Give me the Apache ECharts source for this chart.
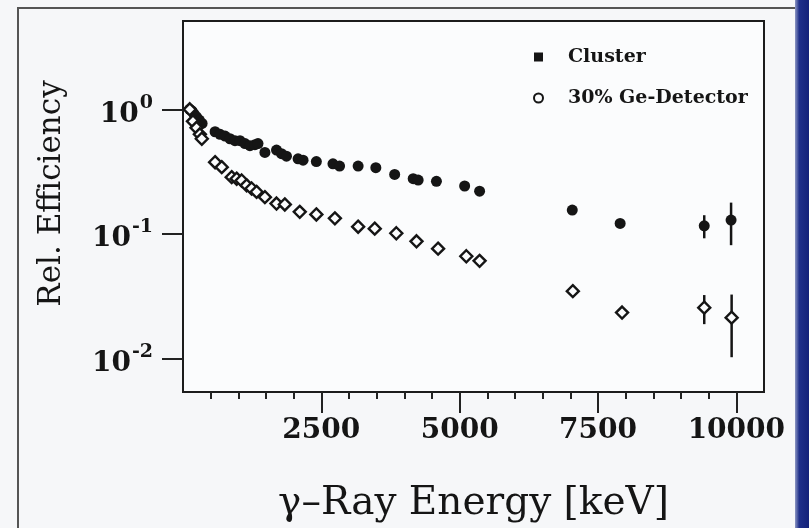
<!DOCTYPE html>
<html>
<head>
<meta charset="utf-8">
<script src="https://cdn.jsdelivr.net/npm/echarts@6/dist/echarts.min.js"></script>
<style>
  html, body { margin: 0; padding: 0; background: #f6f7f9; }
  #chart { width: 809px; height: 528px; }
</style>
</head>
<body>
<div id="chart"></div>
<script>
// cluster detector (filled points)
var clusterE = [122, 160, 200, 245, 295, 345, 580, 670, 760, 850, 940, 1030, 1120, 1210, 1300, 1355, 1480, 1690, 1780, 1870, 2080, 2170, 2410, 2710, 2830, 3165, 3485, 3825, 4160, 4250, 4580, 5090, 5360, 7035, 7900, 9420, 9905];
var clusterEff = [1.0, 0.97, 0.92, 0.87, 0.82, 0.77, 0.66, 0.63, 0.61, 0.58, 0.56, 0.56, 0.53, 0.51, 0.52, 0.53, 0.45, 0.47, 0.44, 0.42, 0.40, 0.39, 0.38, 0.365, 0.35, 0.35, 0.34, 0.30, 0.277, 0.27, 0.264, 0.242, 0.22, 0.155, 0.121, 0.116, 0.129];

// 30% Ge detector (open points)
var geE = [122, 180, 245, 305, 340, 580, 700, 880, 970, 1060, 1150, 1240, 1330, 1480, 1690, 1840, 2110, 2410, 2745, 3165, 3465, 3855, 4220, 4610, 5120, 5360, 7045, 7935, 9420, 9915];
var geEff = [1.0, 0.80, 0.71, 0.63, 0.58, 0.376, 0.343, 0.285, 0.277, 0.268, 0.245, 0.231, 0.217, 0.197, 0.175, 0.172, 0.150, 0.143, 0.133, 0.114, 0.110, 0.101, 0.087, 0.076, 0.066, 0.0606, 0.0346, 0.0233, 0.0255, 0.0212];

// error bars (only the high energy points have visible ones)
var clusterErrE = [9420, 9905];
var clusterErrLo = [0.092, 0.081];
var clusterErrHi = [0.141, 0.178];
var geErrE = [9420, 9915];
var geErrLo = [0.0188, 0.0102];
var geErrHi = [0.0322, 0.0325];

// ticks
var xMajorTicks = [2500, 5000, 7500, 10000];
var xMinorTicks = [500, 1000, 1500, 2000, 3000, 3500, 4000, 4500, 5500, 6000, 6500, 7000, 8000, 8500, 9000, 9500];
var yTicks = [0.01, 0.1, 1];

var seriesNames = ['Cluster', '30% Ge-Detector'];

function pairs(xs, ys) {
  return xs.map(function (x, i) { return [x, ys[i]]; });
}
function errRows(xs, lo, hi) {
  return xs.map(function (x, i) { return [x, lo[i], hi[i]]; });
}

function errBar(params, api) {
  var top = api.coord([api.value(0), api.value(2)]);
  var bot = api.coord([api.value(0), api.value(1)]);
  return {
    type: 'line',
    shape: { x1: top[0], y1: top[1], x2: bot[0], y2: bot[1] },
    style: { stroke: '#151515', lineWidth: 2.5 }
  };
}

var serif = 'DejaVu Serif';
var ink = '#151515';

var myChart = echarts.init(document.getElementById('chart'), null, { renderer: 'canvas' });

var option = {
  backgroundColor: '#f6f7f9',
  animation: false,
  graphic: [
    {
      type: 'polyline',
      shape: { points: [[18, 528], [18, 8], [796, 8]] },
      style: { stroke: '#555', lineWidth: 2, fill: null }
    },
    {
      type: 'rect',
      shape: { x: 795, y: 0, width: 14, height: 528 },
      style: {
        fill: new echarts.graphic.LinearGradient(0, 0, 1, 0, [
          { offset: 0, color: '#8d97c4' },
          { offset: 0.3, color: '#1f2f8a' },
          { offset: 1, color: '#14227a' }
        ])
      }
    }
  ],
  grid: {
    left: 183, right: 45, top: 21, bottom: 133,
    show: true,
    backgroundColor: '#fbfcfd',
    borderColor: '#1c1c1c',
    borderWidth: 2
  },
  legend: {
    orient: 'vertical',
    left: 528, top: 42,
    itemWidth: 9, itemHeight: 9,
    itemGap: 21,
    data: [
      { name: seriesNames[0], icon: 'rect' },
      { name: seriesNames[1], icon: 'circle' }
    ],
    textStyle: {
      fontFamily: serif, fontWeight: 'bold', fontSize: 19, color: ink,
      lineHeight: 20, padding: [0, 0, 0, 20]
    }
  },
  xAxis: [
    {
      type: 'value',
      min: 0, max: 10500,
      name: 'γ–Ray Energy [keV]',
      nameLocation: 'middle',
      nameGap: 92,
      nameTextStyle: { fontFamily: serif, fontSize: 39, color: ink },
      axisLine: { show: false },
      splitLine: { show: false },
      axisTick: {
        show: true, length: 21, customValues: xMajorTicks,
        lineStyle: { color: '#222', width: 2 }
      },
      axisLabel: {
        customValues: xMajorTicks,
        margin: 25,
        fontFamily: serif, fontWeight: 'bold', fontSize: 28, color: ink,
        formatter: function (v) { return String(v); }
      }
    },
    {
      type: 'value',
      gridIndex: 0,
      position: 'bottom',
      min: 0, max: 10500,
      axisLine: { show: false },
      splitLine: { show: false },
      axisLabel: { show: false },
      axisTick: {
        show: true, length: 7, customValues: xMinorTicks,
        lineStyle: { color: '#222', width: 2 }
      }
    }
  ],
  yAxis: {
    type: 'log',
    logBase: 10,
    min: 0.00536, max: 5.12,
    name: 'Rel. Efficiency',
    nameLocation: 'middle',
    nameGap: 116,
    nameTextStyle: { fontFamily: serif, fontSize: 31, color: ink, padding: [0, 0, 0, 26] },
    axisLine: { show: false },
    splitLine: { show: false },
    axisTick: {
      show: true, length: 21, customValues: yTicks,
      lineStyle: { color: '#222', width: 2 }
    },
    axisLabel: {
      customValues: yTicks,
      margin: 30,
      formatter: function (v) {
        var p = Math.round(Math.log10(v));
        return '{b|10}{s|' + (p < 0 ? '-' + (-p) : p) + '}';
      },
      rich: {
        b: { fontFamily: serif, fontWeight: 'bold', fontSize: 28, color: ink, verticalAlign: 'bottom', padding: [10, 0, 0, 0] },
        s: { fontFamily: serif, fontWeight: 'bold', fontSize: 19, color: ink, verticalAlign: 'bottom', padding: [0, 0, 16, 1] }
      }
    }
  },
  series: [
    {
      name: 'clusterErr',
      type: 'custom',
      renderItem: errBar,
      encode: { x: 0, y: [1, 2] },
      data: errRows(clusterErrE, clusterErrLo, clusterErrHi),
      z: 1
    },
    {
      name: 'geErr',
      type: 'custom',
      renderItem: errBar,
      encode: { x: 0, y: [1, 2] },
      data: errRows(geErrE, geErrLo, geErrHi),
      z: 1
    },
    {
      name: seriesNames[0],
      type: 'scatter',
      symbol: 'circle',
      symbolSize: 11,
      itemStyle: { color: ink, opacity: 1 },
      data: pairs(clusterE, clusterEff),
      z: 3
    },
    {
      name: seriesNames[1],
      type: 'scatter',
      symbol: 'diamond',
      symbolSize: 12,
      itemStyle: { color: '#fbfcfd', borderColor: ink, borderWidth: 2.4, opacity: 1 },
      data: pairs(geE, geEff),
      z: 3
    }
  ]
};

myChart.setOption(option);
window.addEventListener('resize', myChart.resize);
</script>
</body>
</html>
